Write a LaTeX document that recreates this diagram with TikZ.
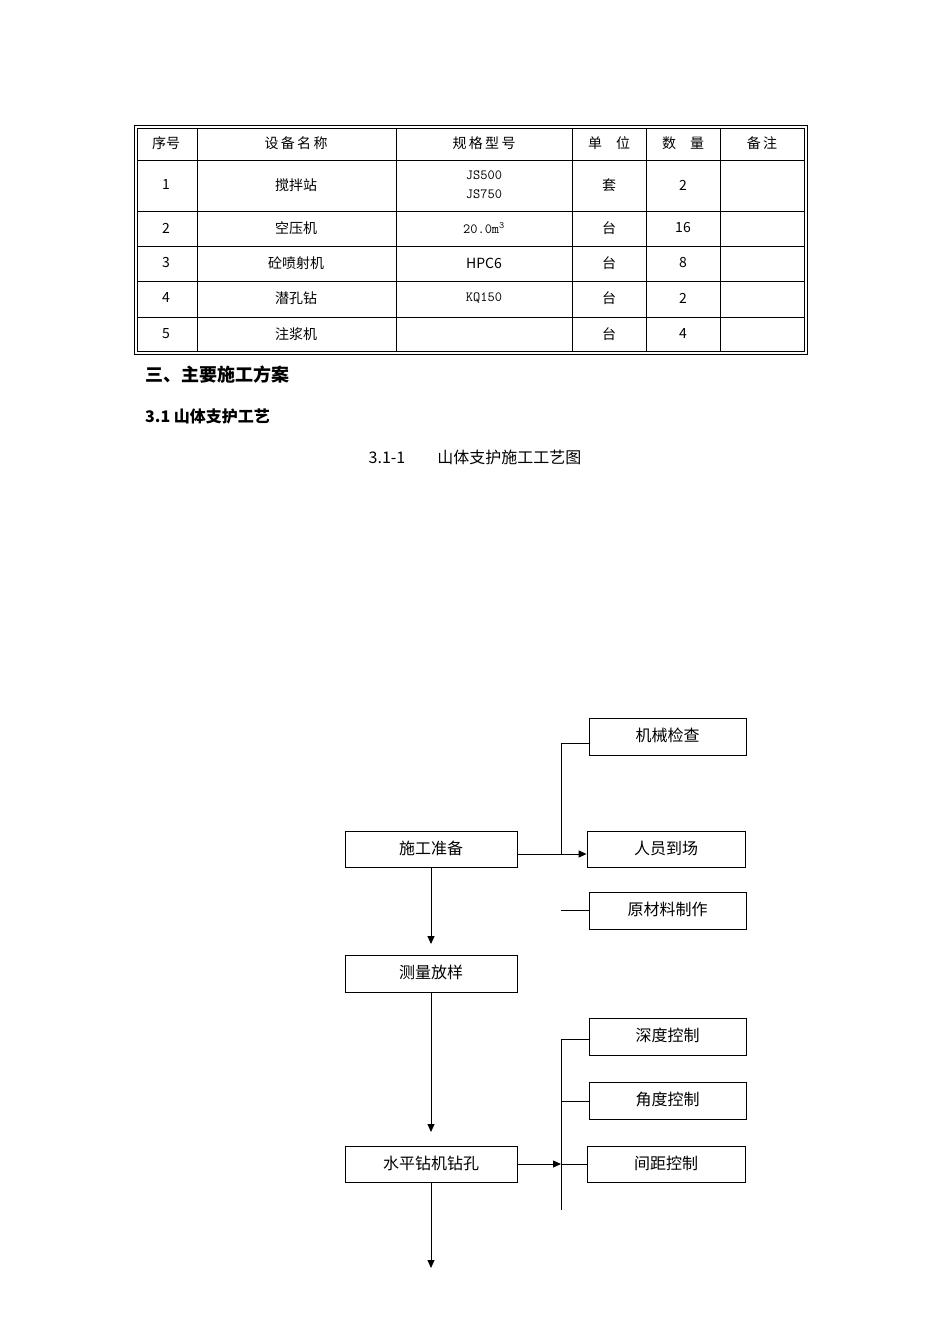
\documentclass[tikz,border=0pt]{standalone}
\usepackage{fontspec}
\setmainfont{Liberation Serif}
\newfontfamily\cjk{Noto Sans CJK SC}
\usetikzlibrary{arrows.meta}
\begin{document}
\begin{tikzpicture}[x=1pt,y=-1pt,
  fbox/.style={draw,line width=0.8pt,inner sep=0pt,font=\cjk\fontsize{16}{18}\selectfont},
  tcell/.style={font=\cjk\fontsize{14}{17}\selectfont,inner sep=0pt},
  conn/.style={line width=0.9pt},
  arr/.style={line width=0.9pt,-{Triangle[length=8pt,width=7pt]}}]
\useasboundingbox (0,0) rectangle (950,1344);
% table frame
\draw[line width=0.8pt] (134,125) rectangle (807,354);
\draw[line width=0.8pt] (137,128) rectangle (804,351);
\foreach \x in {197,396,572,646,720} \draw[line width=0.8pt] (\x,128) -- (\x,351);
\foreach \y in {160,211,246,281,317} \draw[line width=0.8pt] (137,\y) -- (804,\y);
% header
\node[tcell] (h1) at (166,143) {序号};
\node[tcell] (h2) at (296,143) {设\,备\,名\,称};
\node[tcell] (h3) at (484,143) {规\,格\,型\,号};
\node[tcell] (h4) at (609,143) {单\quad 位};
\node[tcell] (h5) at (683,143) {数\quad 量};
\node[tcell] (h6) at (762,143) {备\,注};
% rows
\node[tcell] (r1a) at (166,185) {1};
\node[tcell] (r1b) at (296,185) {搅拌站};
\node[tcell,align=center] (r1c) at (484,185) {\ttfamily JS500\\[2pt]\ttfamily JS750};
\node[tcell] (r1d) at (609,185) {套};
\node[tcell] (r1e) at (683,185) {2};
\node[tcell] (r2a) at (166,228) {2};
\node[tcell] (r2b) at (296,228) {空压机};
\node[tcell] (r2c) at (484,228) {\ttfamily 20.0m\textsuperscript{3}};
\node[tcell] (r2d) at (609,228) {台};
\node[tcell] (r2e) at (683,228) {16};
\node[tcell] (r3a) at (166,263) {3};
\node[tcell] (r3b) at (296,263) {砼喷射机};
\node[tcell] (r3c) at (484,263) {HPC6};
\node[tcell] (r3d) at (609,263) {台};
\node[tcell] (r3e) at (683,263) {8};
\node[tcell] (r4a) at (166,298) {4};
\node[tcell] (r4b) at (296,298) {潜孔钻};
\node[tcell] (r4c) at (484,298) {\ttfamily KQ150};
\node[tcell] (r4d) at (609,298) {台};
\node[tcell] (r4e) at (683,298) {2};
\node[tcell] (r5a) at (166,334) {5};
\node[tcell] (r5b) at (296,334) {注浆机};
\node[tcell] (r5d) at (609,334) {台};
\node[tcell] (r5e) at (683,334) {4};
% headings
\node[anchor=west,inner sep=0pt,font=\cjk\bfseries\fontsize{18}{20}\selectfont] (t1) at (145,375) {三、主要施工方案};
\node[anchor=west,inner sep=0pt,font=\cjk\bfseries\fontsize{16}{18}\selectfont] (t2) at (145,416) {3.1 山体支护工艺};
\node[inner sep=0pt,font=\cjk\fontsize{16}{18}\selectfont] (cap) at (475,457) {3.1-1\qquad 山体支护施工工艺图};
% flow boxes
\node[fbox,minimum width=157pt,minimum height=37pt] (jx) at (667.5,736.5) {\raisebox{3pt}{机械检查}};
\node[fbox,minimum width=172pt,minimum height=36pt] (sg) at (431,849) {\raisebox{3pt}{施工准备}};
\node[fbox,minimum width=158pt,minimum height=36pt] (ry) at (666,849) {\raisebox{3pt}{人员到场}};
\node[fbox,minimum width=157pt,minimum height=37pt] (ycl) at (667.5,910.5) {\raisebox{3pt}{原材料制作}};
\node[fbox,minimum width=172pt,minimum height=37pt] (cl) at (431,973.5) {\raisebox{3pt}{测量放样}};
\node[fbox,minimum width=157pt,minimum height=37pt] (sd) at (667.5,1036.5) {\raisebox{3pt}{深度控制}};
\node[fbox,minimum width=157pt,minimum height=37pt] (jd) at (667.5,1100.5) {\raisebox{3pt}{角度控制}};
\node[fbox,minimum width=158pt,minimum height=36pt] (jj) at (666,1164) {\raisebox{3pt}{间距控制}};
\node[fbox,minimum width=172pt,minimum height=36pt] (sp) at (431,1164) {\raisebox{3pt}{水平钻机钻孔}};
% coordinates
\coordinate (a1) at (561,743);
\coordinate (a2) at (561,854);
\coordinate (s1) at (561,910);
\coordinate (b1) at (561,1039);
\coordinate (b2) at (561,1101);
\coordinate (b3) at (561,1164);
\coordinate (b4) at (561,1210);
\coordinate (e1) at (431,944);
\coordinate (e2) at (431,1132);
\coordinate (e3) at (431,1268);
% connectors
\draw[conn] (jx.west |- a1) -- (a1) -- (a2);
\draw[arr] (sg.east |- a2) -- (ry.west |- a2);
\draw[conn] (s1) -- (ycl.west |- s1);
\draw[arr] (sg.south) -- (e1);
\draw[arr] (cl.south) -- (e2);
\draw[conn] (b1) -- (b4);
\draw[conn] (b1) -- (sd.west |- b1);
\draw[conn] (b2) -- (jd.west |- b2);
\draw[conn] (b3) -- (jj.west);
\draw[arr] (sp.east) -- (b3);
\draw[arr] (sp.south) -- (e3);
\end{tikzpicture}
\end{document}
